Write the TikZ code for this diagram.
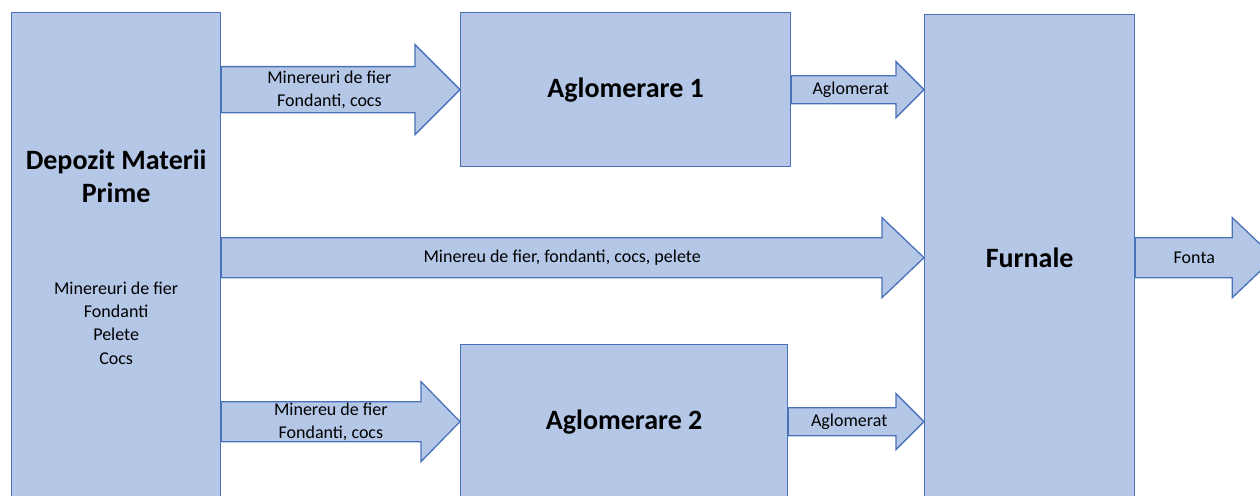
\documentclass[tikz,border=0pt]{standalone}
\usepackage{fontspec}
\setmainfont{Carlito}
\usepackage{tikz}
\usetikzlibrary{calc,positioning}
\definecolor{boxfill}{HTML}{B4C7E7}
\definecolor{boxline}{HTML}{4A72B8}
\tikzstyle{block} = [rectangle, draw=boxline, fill=boxfill, line width=1.3pt, inner sep=0pt]
\tikzstyle{title} = [font=\fontsize{28}{33}\selectfont\bfseries, align=center]
\tikzstyle{small} = [font=\fontsize{18}{23.3}\selectfont, align=center]
\tikzstyle{flow} = [draw=boxline, fill=boxfill, line width=1.3pt, line join=miter]

% #1 label name, #2 start, #3 tip, #4 shaft half, #5 head half, #6 head length, #7 text
\newcommand{\blockarrow}[7]{%
	\draw[flow] ($(#2)+(0,-#4)$) -- ($(#3)+(-#6,-#4)$) -- ($(#3)+(-#6,-#5)$) -- (#3)
		-- ($(#3)+(-#6,#5)$) -- ($(#3)+(-#6,#4)$) -- ($(#2)+(0,#4)$) -- cycle;
	\node[small] (#1) at ($(#2)!0.5!(#3)+(-#6/4,0)$) {#7};}

\begin{document}
\begin{tikzpicture}[x=1pt, y=-1pt]
	\clip (0,0) rectangle (1260,495);
	\node (depozit) [block, minimum width=209pt, minimum height=520pt, anchor=north west] at (11,12) {};
	\node (deptitle) [title] at (depozit.north |- 0,176) {Depozit Materii\\Prime};
	\node (deplist) [small] at (depozit.north |- 0,323) {Minereuri de fier\\Fondanti\\Pelete\\Cocs};
	\node (aglo1) [block, title, minimum width=330pt, minimum height=154pt, anchor=north west] at (460,12) {Aglomerare 1};
	\node (aglo2) [block, title, minimum width=327pt, minimum height=154pt, anchor=north west] at (460,344) {Aglomerare 2};
	\node (furnale) [block, title, minimum width=210pt, minimum height=486pt, anchor=north west] at (924,14) {Furnale};
	\coordinate (out) at ($(furnale.east)+(139,0)$);

	\blockarrow{l1}{depozit.east |- aglo1.west}{aglo1.west}{23}{45}{45}{Minereuri de fier\\Fondanti, cocs}
	\blockarrow{l2}{depozit.east |- furnale.west}{furnale.west}{20}{40}{42}{Minereu de fier, fondanti, cocs, pelete}
	\blockarrow{l3}{depozit.east |- aglo2.west}{aglo2.west}{20}{40}{39}{Minereu de fier\\Fondanti, cocs}
	\blockarrow{l4}{aglo1.east}{furnale.west |- aglo1.east}{14}{28}{28}{Aglomerat}
	\blockarrow{l5}{aglo2.east}{furnale.west |- aglo2.east}{14}{28}{28}{Aglomerat}
	\blockarrow{l6}{furnale.east}{out}{20}{40}{42}{Fonta}
\end{tikzpicture}
\end{document}
